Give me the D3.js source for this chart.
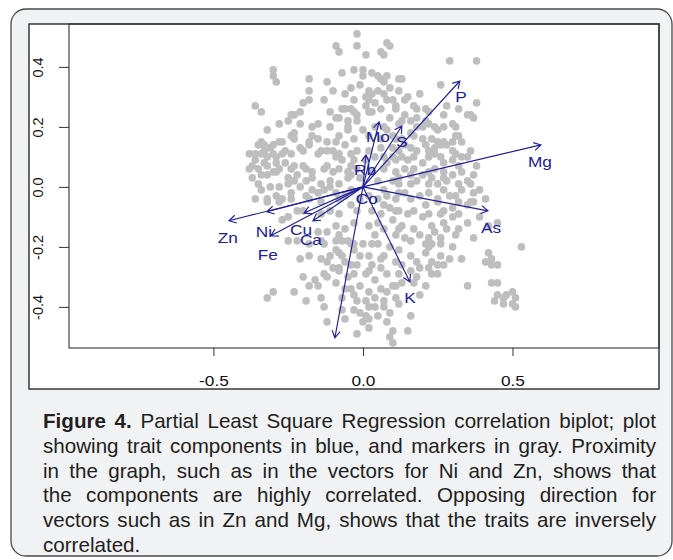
<!DOCTYPE html>
<html><head><meta charset="utf-8">
<script src="https://cdn.jsdelivr.net/npm/d3@7"></script>
<style>
html,body{margin:0;padding:0;background:#fff;}
#wrap{position:relative;width:673px;height:560px;overflow:hidden;}
svg{position:absolute;left:0;top:0;}
#cap{position:absolute;left:43px;top:409px;width:613px;font-family:"Liberation Sans",Arial,sans-serif;font-size:20.6px;line-height:24.8px;color:#231f20;}
#cap div{text-align:justify;text-align-last:justify;white-space:nowrap;}
#cap div.last{text-align-last:left;}
</style></head><body>
<div id="wrap"><svg id="c" width="673" height="560"></svg><div id="cap"></div></div>
<script>
const xTicks = [-0.5, 0, 0.5];
const yTicks = [-0.4, -0.2, 0, 0.2, 0.4];

const traitNames = ["P","Mg","S","Mo","Rb","Co","As","K","","Zn","Ni","Fe","Cu","Ca"];
const traitX = [0.324, 0.595, 0.130, 0.054, 0.010, 0.003, 0.418, 0.157, -0.094, -0.448, -0.321, -0.308, -0.197, -0.167];
const traitY = [0.353, 0.140, 0.203, 0.217, 0.107, -0.007, -0.080, -0.317, -0.503, -0.113, -0.083, -0.163, -0.087, -0.113];
const labelX = [0.328, 0.592, 0.130, 0.050, 0.007, 0.013, 0.428, 0.157, -0.094, -0.452, -0.331, -0.318, -0.207, -0.174];
const labelY = [0.300, 0.083, 0.150, 0.167, 0.057, -0.040, -0.137, -0.370, -0.560, -0.170, -0.150, -0.227, -0.143, -0.177];

const markers = [
[-0.02,0.51],[-0.02,0.47],[-0.09,0.47],[-0.08,0.45],[0.01,0.44],[0.06,0.45],[0.07,0.44],[0.08,0.48],[0.09,0.47],
[-0.30,0.39],[-0.30,0.37],[-0.29,0.35],[-0.18,0.36],[-0.12,0.35],[-0.07,0.38],[-0.03,0.39],[0.00,0.39],[0.00,0.37],[0.03,0.38],[0.05,0.37],[0.06,0.36],[0.07,0.35],[0.08,0.37],[0.29,0.42],[0.38,0.42],
[-0.18,0.32],[-0.10,0.32],[-0.04,0.33],[0.02,0.32],[0.03,0.31],[0.05,0.32],[0.01,0.30],[0.02,0.29],[0.01,0.27],[0.04,0.28],[0.07,0.31],[0.08,0.29],[0.12,0.36],[0.13,0.36],[0.09,0.33],[0.15,0.30],[0.14,0.29],[0.26,0.34],[0.10,0.29],[0.11,0.26],[0.11,0.27],
[0.17,0.27],[0.18,0.26],[0.21,0.26],[0.22,0.25],[0.28,0.27],[0.32,0.26],[0.38,0.28],[0.35,0.24],[0.37,0.23],[0.36,0.24],[0.14,0.24],[0.16,0.22],[0.18,0.23],[0.13,0.22],[0.21,0.22],[0.20,0.20],[0.18,0.20],[0.24,0.20],[0.25,0.19],[0.27,0.20],[0.30,0.21],[0.31,0.20],[0.32,0.17],[0.31,0.17],[0.07,0.20],[0.08,0.19],[0.10,0.17],[0.16,0.18],[0.17,0.17],[0.20,0.16],[0.23,0.16],[0.25,0.15],[0.27,0.15],
[-0.36,0.27],[-0.34,0.25],[-0.20,0.28],[-0.18,0.29],[-0.11,0.25],[-0.09,0.23],[-0.08,0.23],[-0.07,0.26],[-0.06,0.26],[-0.04,0.26],[-0.03,0.25],[-0.21,0.25],[-0.24,0.24],[-0.23,0.24],[-0.25,0.22],[-0.02,0.24],[-0.02,0.22],[0.02,0.25],[0.03,0.25],[-0.17,0.20],[-0.15,0.21],[-0.05,0.22],[-0.05,0.20],[-0.32,0.19],[-0.24,0.17],[-0.23,0.18],[-0.23,0.16],[-0.17,0.17],[-0.18,0.15],[-0.12,0.15],[-0.09,0.15],[-0.08,0.17],[-0.05,0.19],[-0.34,0.15],[-0.35,0.14],[-0.33,0.14],[-0.31,0.13],[-0.30,0.14],[-0.28,0.15],[-0.27,0.15],
[0.00,0.19],[0.02,0.17],[0.04,0.20],[0.06,0.16],[0.12,0.21],[0.11,0.16],[0.13,0.16],[-0.03,0.16],
[-0.38,0.11],[-0.36,0.11],[-0.34,0.11],[-0.32,0.10],[-0.30,0.11],[-0.29,0.10],[-0.27,0.11],[-0.24,0.11],[-0.21,0.13],[-0.20,0.12],[-0.18,0.14],[-0.15,0.11],[-0.14,0.12],[-0.12,0.12],[-0.10,0.12],[-0.08,0.11],[-0.09,0.10],[-0.07,0.09],[-0.04,0.11],[-0.03,0.09],
[-0.37,0.07],[-0.35,0.06],[-0.33,0.08],[-0.32,0.07],[-0.30,0.05],[-0.28,0.06],[-0.26,0.08],[-0.24,0.06],[-0.20,0.07],[-0.19,0.06],[-0.17,0.05],[-0.13,0.06],[-0.12,0.07],[-0.10,0.05],[-0.08,0.06],[-0.05,0.05],[-0.04,0.04],
[-0.37,0.03],[-0.34,0.04],[-0.35,0.01],[-0.32,0.04],[-0.29,0.05],[-0.25,0.03],[-0.23,0.02],[-0.22,0.04],[-0.31,0.00],[-0.28,0.00],[-0.25,0.01],[-0.19,0.02],[-0.17,0.03],[-0.14,0.01],[-0.11,0.02],[-0.08,0.01],[-0.05,0.03],[-0.21,0.00],[-0.02,0.12],[-0.02,0.06],
[0.02,0.12],[0.04,0.10],[0.06,0.13],[0.10,0.13],[0.12,0.12],[0.14,0.14],[0.16,0.13],[0.18,0.12],[0.21,0.14],[0.22,0.12],[0.24,0.13],[0.26,0.14],[0.28,0.14],[0.30,0.12],[0.30,0.15],[0.33,0.15],
[0.10,0.10],[0.11,0.09],[0.13,0.10],[0.15,0.09],[0.17,0.10],[0.20,0.08],[0.22,0.10],[0.24,0.11],[0.26,0.10],[0.27,0.08],[0.30,0.09],[0.31,0.11],[0.33,0.10],[0.35,0.10],
[0.07,0.06],[0.11,0.05],[0.14,0.06],[0.17,0.06],[0.20,0.04],[0.22,0.05],[0.24,0.06],[0.27,0.05],[0.30,0.04],[0.33,0.05],[0.35,0.02],[0.37,0.04],
[0.10,0.02],[0.12,0.01],[0.16,0.01],[0.18,0.02],[0.22,0.01],[0.25,0.01],[0.28,0.02],[0.32,0.01],[0.36,0.01],[0.03,0.05],[0.05,0.02],[0.07,0.10],
[-0.36,-0.04],[-0.32,-0.04],[-0.32,-0.05],[-0.28,-0.05],[-0.27,-0.04],[-0.24,-0.04],[-0.25,-0.10],[-0.27,-0.11],[-0.22,-0.08],[-0.20,-0.08],[-0.17,-0.01],[-0.15,-0.02],[-0.13,-0.01],[-0.11,0.00],[-0.09,-0.02],[-0.08,-0.04],[-0.18,-0.04],[-0.14,-0.05],[-0.11,-0.08],[-0.08,-0.09],[-0.09,-0.13],[-0.12,-0.15],[-0.06,-0.14],[-0.04,-0.06],[-0.03,-0.12],[-0.05,-0.18],[-0.25,-0.18],[-0.22,-0.18],[-0.14,-0.18],[-0.09,-0.18],
[0.02,-0.03],[0.05,-0.04],[0.03,-0.08],[0.06,-0.09],[0.07,-0.06],[0.08,-0.03],[0.11,-0.04],[0.12,-0.08],[0.10,-0.11],[0.07,-0.14],[0.04,-0.16],[0.02,-0.13],[0.13,-0.13],[0.16,-0.04],[0.17,-0.08],[0.19,-0.03],[0.21,-0.06],[0.20,-0.10],[0.17,-0.14],[0.22,-0.02],[0.25,-0.04],[0.25,-0.05],[0.27,-0.01],[0.29,-0.03],[0.32,-0.05],[0.30,-0.07],[0.36,-0.05],[0.37,-0.02],[0.37,-0.05],[0.35,-0.06],[0.30,-0.10],[0.28,-0.14],[0.35,-0.12],[0.37,-0.17],[0.39,-0.10],[0.42,-0.13],[0.45,-0.12],[0.26,-0.09],[0.23,-0.13],[0.22,-0.17],[0.26,-0.17],[0.14,-0.17],[0.11,-0.16],[-0.01,-0.04],[-0.02,-0.08],
[-0.18,-0.23],[-0.21,-0.24],[-0.14,-0.24],[-0.12,-0.25],[-0.10,-0.27],[-0.08,-0.28],[-0.13,-0.29],[-0.12,-0.30],[-0.20,-0.30],[-0.18,-0.33],[-0.15,-0.33],[-0.16,-0.31],[-0.11,-0.23],[-0.08,-0.22],[-0.07,-0.23],[-0.06,-0.25],[-0.08,-0.27],[-0.05,-0.30],[-0.04,-0.34],[-0.03,-0.21],[-0.02,-0.26],[-0.03,-0.19],[0.00,-0.19],[0.02,-0.23],[0.03,-0.26],[0.01,-0.29],[0.04,-0.31],[0.06,-0.27],[0.07,-0.23],[0.05,-0.19],[0.09,-0.20],[0.11,-0.25],[0.08,-0.29],[0.12,-0.21],[0.13,-0.26],[0.16,-0.23],[0.18,-0.25],[0.16,-0.28],[0.17,-0.32],[0.18,-0.30],[0.19,-0.27],[0.21,-0.22],[0.21,-0.19],[0.23,-0.25],[0.22,-0.27],[0.23,-0.29],[0.25,-0.29],[0.22,-0.20],[0.26,-0.19],[0.26,-0.23],[0.13,-0.32],[0.33,-0.24],[0.42,-0.22],[0.41,-0.25],[0.43,-0.24],[0.43,-0.26],[0.45,-0.26],[0.53,-0.20],[0.35,-0.33],[0.43,-0.32],[0.45,-0.32],[-0.07,-0.37],
[-0.30,-0.35],[-0.32,-0.37],[-0.23,-0.35],[-0.19,-0.38],[-0.14,-0.37],[-0.02,-0.38],[0.01,-0.38],[0.02,-0.40],[0.04,-0.37],[0.08,-0.35],[0.11,-0.37],[0.11,-0.33],[0.06,-0.34],[-0.01,-0.33],
[0.45,-0.36],[0.44,-0.38],[0.47,-0.37],[0.48,-0.36],[0.50,-0.35],[0.51,-0.37],[0.50,-0.39],[0.51,-0.40],[0.47,-0.39],
[-0.07,-0.41],[-0.13,-0.40],[-0.12,-0.45],[-0.01,-0.42],[0.01,-0.43],[0.00,-0.45],[0.02,-0.47],[-0.02,-0.49],[0.04,-0.40],[0.05,-0.43],[0.07,-0.40],[0.08,-0.45],[0.10,-0.48],[0.09,-0.50],[0.10,-0.52],[0.16,-0.43],[0.15,-0.48],
[-0.06,0.14],[-0.04,0.07],[-0.01,0.03],[0.07,-0.01],[0.12,-0.02],[0.15,-0.09],[0.11,-0.08],[0.22,-0.09],[0.27,-0.08],[0.32,-0.09],[0.31,-0.16],[0.03,-0.19],[-0.04,-0.26],[-0.09,-0.32],[-0.03,-0.36],[-0.06,-0.44],[0.12,-0.39],[0.19,-0.36],[0.27,-0.26],[0.30,-0.20],[-0.13,-0.19],[-0.08,-0.16],[-0.18,-0.19],[-0.15,-0.15],
[-0.36,0.09],[-0.33,0.12],[-0.29,0.08],[-0.26,0.12],[-0.23,0.07],[-0.38,0.06],[-0.34,-0.01],[-0.29,-0.03],[-0.24,-0.02],[-0.19,-0.03],[-0.06,-0.03],[-0.04,-0.01],[-0.14,-0.09],
[0.01,0.09],[0.08,0.08],[0.12,0.03],[0.16,0.04],[0.23,0.03],[0.27,0.03],[0.32,0.07],[0.33,-0.01],[0.31,-0.03],[0.14,-0.02],[0.09,-0.07],[0.05,-0.12],[0.12,-0.14],[0.16,-0.18],[0.19,-0.16],[0.24,-0.15],[0.27,-0.12],[0.32,-0.14],[0.23,-0.19],[0.29,-0.24],[0.25,-0.26],[0.21,-0.33],[0.12,-0.29],[0.10,-0.33],[0.06,-0.24],[0.02,-0.28],[-0.01,-0.23],[-0.04,-0.19],[-0.07,-0.18],[-0.09,-0.21],[-0.03,-0.29],[-0.06,-0.34],[0.02,-0.35],[0.07,-0.38],[0.02,-0.44],[0.09,-0.42],[-0.03,-0.41],
[-0.01,0.34],[-0.03,0.29],[-0.06,0.31],[0.06,0.26],[0.09,0.23],[0.12,0.32],[0.19,0.31],[0.22,0.21],[0.27,0.24],[-0.13,0.29],[-0.15,0.16],[-0.21,0.21],[-0.28,0.21],[-0.11,0.20],
[0.36,0.12],[0.38,0.07],[0.39,-0.01],[0.41,-0.04]
];

const captionLines = [
  ["Figure 4.", " Partial Least Square Regression correlation biplot; plot"],
  ["", "showing trait components in blue, and markers  in gray. Proximity"],
  ["", "in the graph, such as in the vectors for Ni and Zn, shows that"],
  ["", "the components are highly correlated. Opposing direction for"],
  ["", "vectors such as in Zn and Mg, shows that the traits are inversely"],
  ["", "correlated."]
];

const svg = d3.select("#c");
const plotL = 69, plotR = 659, plotT = 24, plotB = 348;
const x = d3.scaleLinear().domain([-0.983, 0.99]).range([plotL, plotR]);
const y = d3.scaleLinear().domain([-0.537, 0.543]).range([plotB, plotT]);
const blue = "#20209a";
const font = "'Liberation Sans', Arial, sans-serif";

// outer panel
svg.append("rect").attr("x", 11).attr("y", 9).attr("width", 661).attr("height", 547)
  .attr("rx", 15).attr("fill", "#f1f2f4").attr("stroke", "#4a4a4a").attr("stroke-width", 1.3);
// white image box
svg.append("rect").attr("x", 29).attr("y", 24).attr("width", 630).attr("height", 365)
  .attr("fill", "#fff").attr("stroke", "#2a2a2a").attr("stroke-width", 1.4);

svg.append("clipPath").attr("id", "clip").append("rect")
  .attr("x", plotL).attr("y", plotT).attr("width", plotR - plotL).attr("height", plotB - plotT);
const g = svg.append("g").attr("clip-path", "url(#clip)");

g.selectAll("circle.m").data(markers).join("circle").attr("class", "m")
  .attr("cx", d => x(d[0])).attr("cy", d => y(d[1])).attr("r", 3.8).attr("fill", "#bebebe");

const traits = traitNames.map((n, i) => ({n, x: traitX[i], y: traitY[i], lx: labelX[i], ly: labelY[i]}));
function arrowPath(d) {
  const x1 = x(0), y1 = y(0), x2 = x(d.x), y2 = y(d.y);
  let p = `M${x1},${y1}L${x2},${y2}`;
  const len = Math.hypot(x2 - x1, y2 - y1);
  if (len > 10) {
    const a = Math.atan2(y2 - y1, x2 - x1), L = 8, w = Math.PI / 6;
    p += `M${x2 - L * Math.cos(a - w)},${y2 - L * Math.sin(a - w)}L${x2},${y2}L${x2 - L * Math.cos(a + w)},${y2 - L * Math.sin(a + w)}`;
  }
  return p;
}
g.selectAll("path.arr").data(traits).join("path").attr("class", "arr")
  .attr("d", arrowPath).attr("fill", "none").attr("stroke", blue).attr("stroke-width", 1.15);
g.selectAll("text.lab").data(traits.filter(d => d.n)).join("text").attr("class", "lab")
  .attr("transform", d => `translate(${x(d.lx)},${y(d.ly)}) scale(1.15,1)`)
  .attr("text-anchor", "middle").attr("dy", "0.36em")
  .attr("font-family", font).attr("font-size", 15).attr("fill", blue).text(d => d.n);

// plot frame
svg.append("rect").attr("x", plotL).attr("y", plotT).attr("width", plotR - plotL).attr("height", plotB - plotT)
  .attr("fill", "none").attr("stroke", "#333").attr("stroke-width", 1.1);

// x axis
const xa = svg.append("g").attr("transform", `translate(0,${plotB})`)
  .call(d3.axisBottom(x).tickValues(xTicks).tickSize(8).tickFormat(d => d.toFixed(1)));
xa.select(".domain").remove();
xa.selectAll("line").attr("stroke", "#333");
xa.selectAll("text").attr("font-family", font).attr("font-size", 15).attr("fill", "#111")
  .attr("y", 0).attr("dy", 0)
  .attr("transform", "translate(0,38) scale(1.15,1)");

// y axis
const ya = svg.append("g").attr("transform", `translate(${plotL},0)`)
  .call(d3.axisLeft(y).tickValues(yTicks).tickSize(10).tickFormat(d => d.toFixed(1)));
ya.select(".domain").remove();
ya.selectAll("line").attr("stroke", "#333");
ya.selectAll("text").attr("font-family", font).attr("font-size", 14.5).attr("fill", "#111")
  .attr("x", 0).attr("dy", 0).attr("y", -26).attr("text-anchor", "middle")
  .attr("transform", "rotate(-90)");

// caption
const cap = d3.select("#cap");
captionLines.forEach((ln, i) => {
  const div = cap.append("div").attr("class", i === captionLines.length - 1 ? "last" : null)
    .style("white-space", "normal");
  if (ln[0]) div.append("b").text(ln[0]);
  div.append("span").text(ln[1]);
});
</script>
</body></html>
